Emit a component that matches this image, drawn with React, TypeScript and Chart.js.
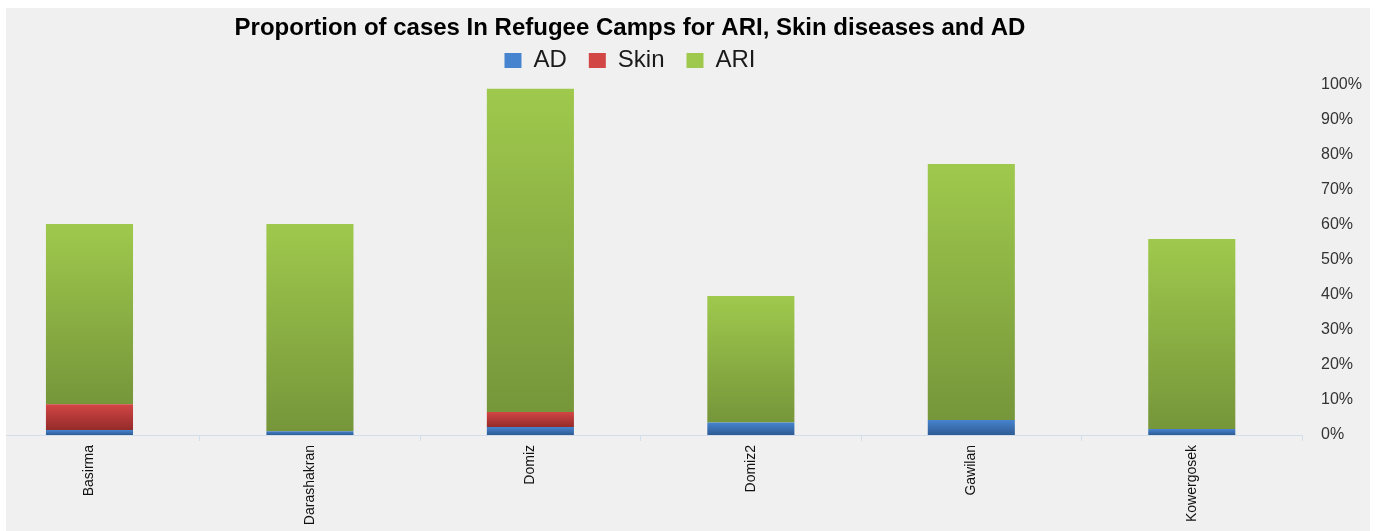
import React, { useEffect, useRef } from 'react';
import { Chart, registerables } from 'chart.js';

Chart.register(...registerables);

const CATEGORIES = ['Basirma', 'Darashakran', 'Domiz', 'Domiz2', 'Gawilan', 'Kowergosek'];
const AD = [1.4, 1.1, 2.3, 3.6, 4.3, 1.7];
const SKIN = [7.4, 0, 4.3, 0, 0, 0];
const ARI = [51.5, 59.2, 92.3, 36.1, 73.1, 54.3];
const SERIES_NAMES = ['AD', 'Skin', 'ARI'];
const Y_MIN = 0;
const Y_MAX = 100;
const Y_STEP = 10;
const TITLE = 'Proportion of cases In Refugee Camps for ARI, Skin diseases and AD';

const COLORS: [string, string, string][] = [
  ['#4784cf', '#3b70b3', '#2e5b93'],
  ['#d24645', '#b63a39', '#942b2a'],
  ['#9fc94d', '#8bb043', '#76963a'],
];

function segmentFill(ctx: any, di: number) {
  const [top, mid, bot] = COLORS[di];
  const chart = ctx.chart;
  if (!chart.chartArea || ctx.type !== 'data') return mid;
  const y = chart.scales.y;
  const i = ctx.dataIndex;
  let base = 0;
  for (let d = 0; d < di; d++) base += chart.data.datasets[d].data[i] as number;
  const v = chart.data.datasets[di].data[i] as number;
  const yTop = y.getPixelForValue(base + v);
  const yBot = y.getPixelForValue(base);
  if (!isFinite(yTop) || !isFinite(yBot) || yTop === yBot) return mid;
  const g = chart.ctx.createLinearGradient(0, yTop, 0, yBot);
  g.addColorStop(0, top);
  g.addColorStop(1, bot);
  return g;
}

export default function App() {
  const ref = useRef<HTMLCanvasElement | null>(null);

  useEffect(() => {
    if (!ref.current) return;
    Chart.defaults.font.family = "'Liberation Sans', Arial, sans-serif";
    const data = [AD, SKIN, ARI];
    const chart = new Chart(ref.current, {
      type: 'bar',
      data: {
        labels: CATEGORIES,
        datasets: SERIES_NAMES.map((name, di) => ({
          label: name,
          data: data[di],
          xAxisID: 'x',
          yAxisID: 'y',
          backgroundColor: (ctx: any) => segmentFill(ctx, di),
          borderWidth: 0,
          barPercentage: 0.395,
          categoryPercentage: 1,
        })),
      },
      options: {
        animation: false,
        responsive: false,
        maintainAspectRatio: false,
        layout: { padding: { left: 6, right: 6, top: 0, bottom: 0 } },
        plugins: {
          title: {
            display: true,
            text: TITLE,
            color: '#000',
            font: { size: 24, weight: 'bold' },
            padding: { top: 6, bottom: -16.3 },
          },
          subtitle: {
            display: true,
            text: '',
            weight: 500,
            font: { size: 1, lineHeight: 1 },
            padding: { top: 1.5, bottom: 0 },
          },
          legend: {
            display: true,
            position: 'top',
            labels: {
              color: '#1a1a1a',
              font: { size: 24 },
              boxWidth: 17,
              boxHeight: 15,
              padding: 22,
            },
          },
          tooltip: { enabled: false },
        },
        scales: {
          x: {
            stacked: true,
            offset: true,
            grid: {
              display: true,
              drawOnChartArea: false,
              drawTicks: true,
              tickLength: 6,
              color: '#d3deec',
              offset: true,
            },
            border: { display: true, color: '#d3deec', width: 1 },
            ticks: {
              color: '#111',
              font: { size: 14 },
              minRotation: 90,
              maxRotation: 90,
              padding: 4,
              autoSkip: false,
            },
            afterFit: (scale: any) => {
              scale.height = 96;
            },
          },
          y: {
            stacked: true,
            position: 'right',
            min: Y_MIN,
            max: Y_MAX,
            grid: { display: false, drawTicks: false },
            border: { display: false },
            ticks: {
              stepSize: Y_STEP,
              color: '#333',
              font: { size: 16 },
              padding: 19,
              callback: (v: any) => `${v}%`,
            },
            afterFit: (scale: any) => {
              scale.width = 62;
            },
          },
          spacer: {
            type: 'linear',
            position: 'left',
            display: true,
            grid: { display: false, drawTicks: false },
            border: { display: false },
            ticks: { display: false },
            afterFit: (scale: any) => {
              scale.width = 83.25;
            },
          },
        },
      },
    });
    return () => chart.destroy();
  }, []);

  return (
    <div style={{ position: 'absolute', left: 0, top: 0, width: 1375, height: 531, overflow: 'hidden', background: '#fff' }}>
      <div style={{ position: 'absolute', left: 6, top: 8, width: 1364, height: 523, overflow: 'hidden', background: '#f0f0f0' }}>
        <canvas ref={ref} width={1480} height={523} style={{ position: 'absolute', left: -116, top: 0, width: 1480, height: 523 }} />
      </div>
    </div>
  );
}
